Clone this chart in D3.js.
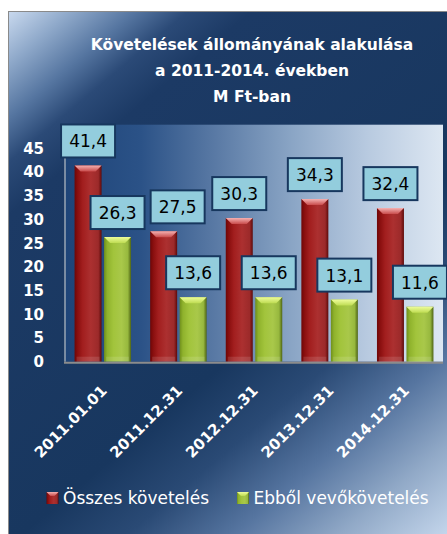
<!DOCTYPE html>
<html>
<head>
<meta charset="utf-8">
<script src="https://cdn.jsdelivr.net/npm/d3@7"></script>
<style>
  body { margin: 0; background: #fff; }
  svg { display: block; font-family: "DejaVu Sans", sans-serif; }
</style>
</head>
<body>
<svg width="447" height="534"></svg>
<script>
const categories = ['2011.01.01', '2011.12.31', '2012.12.31', '2013.12.31', '2014.12.31'];
const seriesNames = ['Összes követelés', 'Ebből vevőkövetelés'];
const totalValues = [41.4, 27.5, 30.3, 34.3, 32.4];
const customerValues = [26.3, 13.6, 13.6, 13.1, 11.6];
const yTicks = [0, 5, 10, 15, 20, 25, 30, 35, 40, 45];
const titleLines = ['Követelések állományának alakulása', 'a 2011-2014. években', 'M Ft-ban'];

const plot = { left: 65, top: 124.7, right: 443, bottom: 361.7 };

const svg = d3.select('svg');
const defs = svg.append('defs');

function linear(id, stops, attrs) {
  const g = defs.append('linearGradient').attr('id', id);
  Object.entries(attrs).forEach(([k, v]) => g.attr(k, v));
  stops.forEach(([o, c]) => g.append('stop').attr('offset', o).attr('stop-color', c));
}

// chart area background (diagonal)
linear('bgGrad', [
  [0, '#cadaef'], [0.06, '#8fa9ca'], [0.12, '#5676a1'], [0.17, '#2b4a77'],
  [0.23, '#1c3a65'], [0.6, '#18375f'], [0.7, '#2a4a75'], [0.8, '#5675a0'],
  [0.9, '#91a9c7'], [1, '#c3d5eb']
], { gradientUnits: 'userSpaceOnUse', x1: 8, y1: 11, x2: 447, y2: 534 });

// plot area background (horizontal)
linear('plotGrad', [
  [0, '#1e4478'], [0.2, '#2b5287'], [0.4, '#5a7aa5'], [0.6, '#8aa5c5'],
  [0.8, '#b8cae0'], [1, '#dde7f2']
], { x1: 0, y1: 0, x2: 1, y2: 0 });

linear('redGrad', [
  [0, '#6e0606'], [0.12, '#8a0f0f'], [0.3, '#a21e1e'], [0.6, '#ac3030'],
  [0.88, '#9c2a2a'], [1, '#5e0a0a']
], { x1: 0, y1: 0, x2: 1, y2: 0 });
linear('greenGrad', [
  [0, '#6f8f1c'], [0.12, '#8fb22c'], [0.35, '#a2c43c'], [0.65, '#a9c84a'],
  [0.88, '#97b83e'], [1, '#4e6414']
], { x1: 0, y1: 0, x2: 1, y2: 0 });
linear('redTop', [[0, '#f4b0b0'], [1, '#c84a4a']], { x1: 0, y1: 0, x2: 0, y2: 1 });
linear('greenTop', [[0, '#eefc9a'], [1, '#bedc52']], { x1: 0, y1: 0, x2: 0, y2: 1 });

const fills = [
  { body: 'url(#redGrad)', top: 'url(#redTop)' },
  { body: 'url(#greenGrad)', top: 'url(#greenTop)' }
];

svg.append('rect')
  .attr('x', 8.5).attr('y', 11.5)
  .attr('width', 450).attr('height', 540)
  .attr('fill', 'url(#bgGrad)')
  .attr('stroke', '#8a8a8a');

// title
svg.append('text')
  .attr('x', 252).attr('y', 50)
  .attr('text-anchor', 'middle')
  .attr('fill', '#fff')
  .attr('font-weight', 'bold')
  .attr('font-size', 15.5)
  .selectAll('tspan')
  .data(titleLines)
  .join('tspan')
  .attr('x', 252)
  .attr('dy', (d, i) => i === 0 ? 0 : 25.8)
  .text(d => d);

// plot area
svg.append('rect')
  .attr('x', plot.left).attr('y', plot.top)
  .attr('width', plot.right - plot.left).attr('height', plot.bottom - plot.top)
  .attr('fill', 'url(#plotGrad)');

const x0 = d3.scaleBand().domain(categories).range([plot.left, plot.right]);
const x1 = d3.scaleBand().domain(seriesNames).range([0, x0.bandwidth()])
  .paddingInner(0.085).paddingOuter(0.324);
const y = d3.scaleLinear().domain([0, 50]).range([plot.bottom, plot.top]);

// axis lines
svg.append('line')
  .attr('x1', plot.left).attr('x2', plot.left)
  .attr('y1', plot.top).attr('y2', plot.bottom)
  .attr('stroke', '#9aa6b4').attr('stroke-width', 1.5);

// y axis labels
const yAxis = d3.axisLeft(y).tickValues(yTicks).tickSize(0).tickPadding(21);
svg.append('g')
  .attr('transform', `translate(${plot.left},0)`)
  .call(yAxis)
  .call(g => g.select('.domain').remove())
  .call(g => g.selectAll('text')
    .attr('fill', '#fff')
    .attr('font-family', '"DejaVu Sans", sans-serif')
    .attr('font-weight', 'bold')
    .attr('font-size', 15));

const series = [totalValues, customerValues];
const rows = [];
categories.forEach((c, i) => {
  series.forEach((vals, s) => rows.push({ cat: c, s, name: seriesNames[s], value: vals[i] }));
});

const bars = svg.append('g').selectAll('g')
  .data(rows)
  .join('g')
  .attr('transform', d => `translate(${x0(d.cat) + x1(d.name)},0)`);

const bw = x1.bandwidth();
bars.append('rect')
  .attr('x', 0)
  .attr('y', d => y(d.value))
  .attr('width', bw)
  .attr('height', d => y(0) - y(d.value))
  .attr('fill', d => fills[d.s].body);

bars.append('path')
  .attr('d', d => {
    const t = y(d.value);
    return `M0,${t} L${bw},${t} L${bw - 6},${t + 6} L6,${t + 6} Z`;
  })
  .attr('fill', d => fills[d.s].top);

bars.append('rect')
  .attr('x', 2)
  .attr('y', y(0) - 5)
  .attr('width', bw - 4)
  .attr('height', 5)
  .attr('fill', '#fff')
  .attr('opacity', 0.12);

// bottom axis line
svg.append('line')
  .attr('x1', plot.left - 1).attr('x2', plot.right)
  .attr('y1', plot.bottom + 1).attr('y2', plot.bottom + 1)
  .attr('stroke', '#8c8c8c').attr('stroke-width', 2);

// data labels
const labelNudge = { '2011.12.31|0': 14 };
const labels = svg.append('g').selectAll('g')
  .data(rows)
  .join('g')
  .attr('transform', d => {
    const cx = x0(d.cat) + x1(d.name) + bw / 2 + (labelNudge[d.cat + '|' + d.s] || 0);
    return `translate(${cx},${y(d.value) - 8})`;
  });

labels.append('rect')
  .attr('x', -27).attr('y', -33)
  .attr('width', 54).attr('height', 33)
  .attr('fill', '#93cddd')
  .attr('stroke', '#17375e')
  .attr('stroke-width', 2);

labels.append('text')
  .attr('y', -10)
  .attr('text-anchor', 'middle')
  .attr('font-size', 17)
  .attr('fill', '#000')
  .text(d => d3.format('.1f')(d.value).replace('.', ','));

// x axis labels
svg.append('g').selectAll('text')
  .data(categories)
  .join('text')
  .attr('transform', d => `translate(${x0(d) + x0.bandwidth() / 2 + 5},${plot.bottom + 30}) rotate(-45)`)
  .attr('text-anchor', 'end')
  .attr('fill', '#fff')
  .attr('font-weight', 'bold')
  .attr('font-size', 15)
  .text(d => d);

// legend
const legendX = [46.5, 237];
const legend = svg.append('g').selectAll('g')
  .data(seriesNames)
  .join('g')
  .attr('transform', (d, i) => `translate(${legendX[i]},492)`);

legend.append('rect')
  .attr('width', 12).attr('height', 12)
  .attr('fill', (d, i) => fills[i].body);
legend.append('path')
  .attr('d', 'M0,0 L12,0 L8,4 L4,4 Z')
  .attr('fill', (d, i) => fills[i].top);
legend.append('text')
  .attr('x', 16.5).attr('y', 12)
  .attr('fill', '#fff')
  .attr('font-size', 17)
  .text(d => d);
</script>
</body>
</html>
